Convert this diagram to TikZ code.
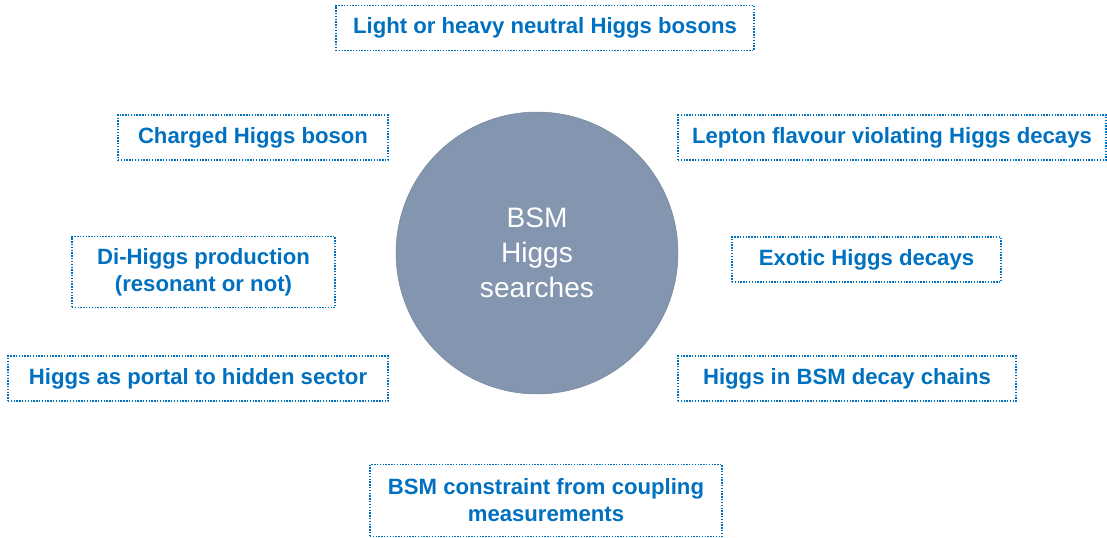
\documentclass[tikz,border=0pt]{standalone}
\usepackage{fontspec}
\setmainfont{Liberation Sans}
\usepackage{tikz}
\usetikzlibrary{positioning}
\definecolor{topicblue}{RGB}{0,112,192}
\definecolor{hubgrey}{RGB}{132,150,175}
\tikzset{
  topic/.style={draw=topicblue, line width=0.8pt, dash pattern=on 0.8pt off 0.8pt, text=topicblue, align=center, inner sep=2pt, minimum height=0.9cm, font=\fontsize{12.6}{15.3}\selectfont\bfseries},
  hub/.style={circle, fill=hubgrey, draw=hubgrey!90!black, line width=0.3pt, text=white, align=center, minimum size=5.64cm, inner sep=0pt, font=\fontsize{16}{19.8}\selectfont}
}
\begin{document}
\begin{tikzpicture}[x=0.02cm, y=-0.02cm]
\useasboundingbox (0,0) rectangle (1107,538);
% ---- centre ----
\node[hub] (bsm) at (537,253) {BSM\\Higgs\\searches};
% ---- topics round it ----
\node[topic, minimum width=8.36cm] (neutral) at (545,28) {Light or heavy neutral Higgs bosons};
\node[topic, minimum width=5.4cm] (charged) at (253,137.5) {Charged Higgs boson};
\node[topic, minimum width=8.56cm] (lfv) at (892,137.5) {Lepton flavour violating Higgs decays};
\node[topic, minimum width=5.26cm, minimum height=1.42cm] (dihiggs) at (203.5,272) {Di-Higgs production\\(resonant or not)};
\node[topic, minimum width=5.38cm] (exotic) at (866.5,259.5) {Exotic Higgs decays};
\node[topic, minimum width=7.6cm] (portal) at (198,378.5) {Higgs as portal to hidden sector};
\node[topic, minimum width=6.76cm] (chains) at (847,378.5) {Higgs in BSM decay chains};
\node[topic, minimum width=7.04cm, minimum height=1.44cm] (coupling) at (546,500.5) {BSM constraint from coupling\\measurements};
\end{tikzpicture}
\end{document}
